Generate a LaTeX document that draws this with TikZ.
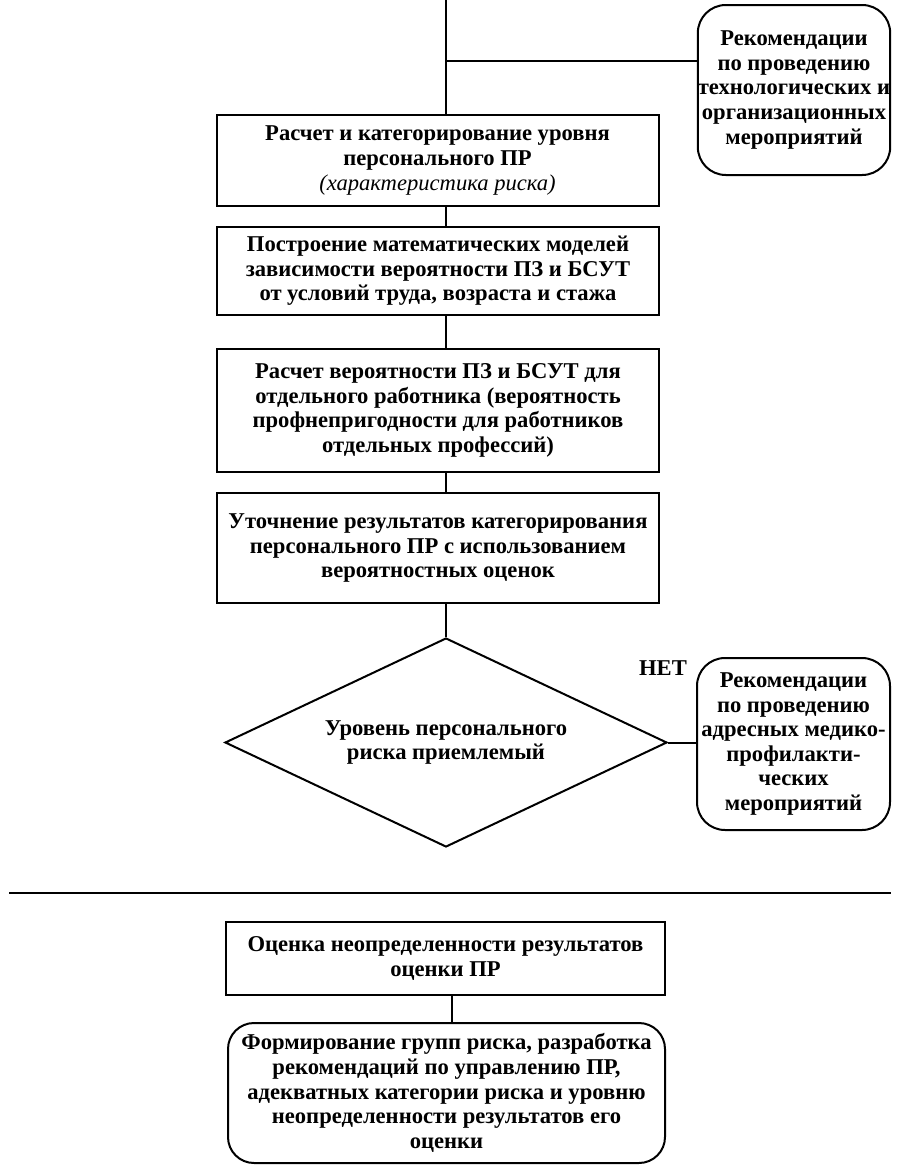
\documentclass[tikz,border=0pt]{standalone}
\usepackage{fontspec}
\setmainfont{Liberation Serif}
\usetikzlibrary{shapes.geometric}
\begin{document}
\begin{tikzpicture}[x=1pt,y=-1pt,
  every node/.style={font=\fontsize{22.6}{24.6}\selectfont\bfseries, align=center, inner sep=0pt},
  box/.style={draw, line width=2pt, minimum width=442pt},
  rbox/.style={draw, line width=2pt, rounded corners=28pt},
  link/.style={line width=2pt}]
\path[use as bounding box] (0,0) rectangle (902,1170);
\coordinate (top) at (446,0);
\coordinate (branch) at (446,61);
\coordinate (spine2) at (452,900);
\coordinate (sepL) at (9,893);
\coordinate (sepR) at (891,893);

\node[box, minimum height=91pt] (b1) at (437.5,160.5)
  {Расчет и категорирование уровня\\ персонального ПР\\ {\mdseries\itshape (характеристика риска)}};
\node[box, minimum height=88pt] (b2) at (438,271)
  {Построение математических моделей\\ зависимости вероятности ПЗ и БСУТ\\ от условий труда, возраста и стажа};
\node[box, minimum height=123pt] (b3) at (438,410.5)
  {Расчет вероятности ПЗ и БСУТ для\\ отдельного работника (вероятность\\ профнепригодности для работников\\ отдельных профессий)};
\node[box, minimum height=110pt] (b4) at (438,548)
  {Уточнение результатов категорирования\\ персонального ПР с использованием\\ вероятностных оценок};
\node[rbox, minimum width=192pt, minimum height=170pt] (r1) at (794,90)
  {Рекомендации\\ по проведению\\ технологических и\\ организационных\\ мероприятий};
\node[draw, line width=2pt, diamond, shape aspect=2.115, minimum width=442pt, minimum height=209pt] (d) at (446,742.5)
  {Уровень персонального\\ риска приемлемый};
\node (net) at (663,668) {НЕТ};
\node[rbox, minimum width=193pt, minimum height=172pt] (r2) at (793.5,744)
  {Рекомендации\\ по проведению\\ адресных медико-\\ профилакти-\\ ческих\\ мероприятий};
\node[box, minimum width=439pt, minimum height=73pt] (b5) at (445.5,958.5)
  {Оценка неопределенности результатов\\ оценки ПР};
\node[rbox, rounded corners=26pt, minimum width=437pt, minimum height=140pt] (b6) at (446.5,1093)
  {Формирование групп риска, разработка\\ рекомендаций по управлению ПР,\\ адекватных категории риска и уровню\\ неопределенности результатов его\\ оценки};

\draw[link] (top) -- (b1.north -| top);
\draw[link] (branch) -- (r1.west |- branch);
\draw[link] (b1.south -| top) -- (b2.north -| top);
\draw[link] (b2.south -| top) -- (b3.north -| top);
\draw[link] (b3.south -| top) -- (b4.north -| top);
\draw[link] (b4.south -| top) -- (d.north);
\draw[link] (d.east) -- (r2.west |- d.east);
\draw[line width=2.8pt] (sepL) -- (sepR);
\draw[link] (b5.south -| spine2) -- (b6.north -| spine2);
\end{tikzpicture}
\end{document}
